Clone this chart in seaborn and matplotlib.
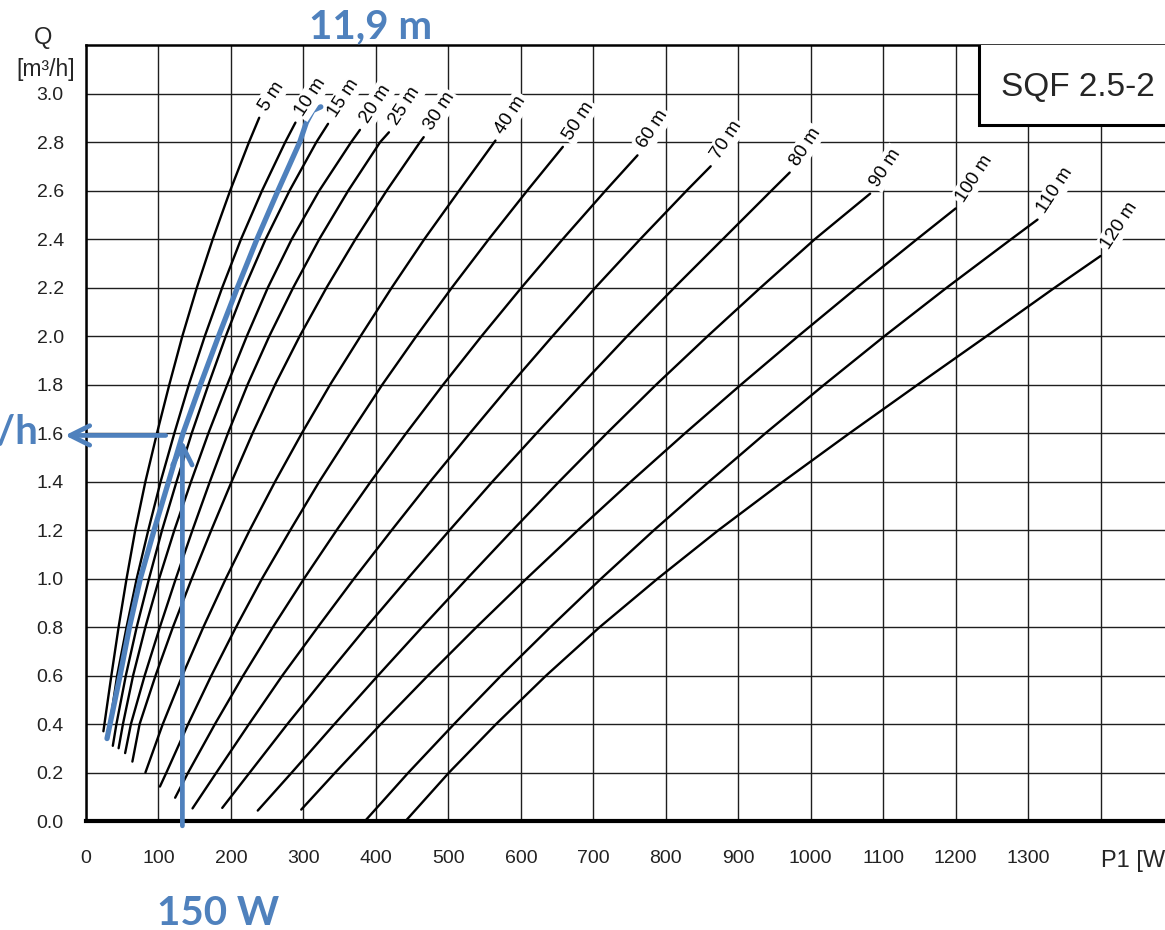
import numpy as np
import pandas as pd
import matplotlib
matplotlib.use("Agg")
import matplotlib.pyplot as plt
from matplotlib.patches import Rectangle
import seaborn as sns

# ---------------- data ----------------
HEAD_LABELS = ["5 m", "10 m", "15 m", "20 m", "25 m", "30 m", "40 m", "50 m",
               "60 m", "70 m", "80 m", "90 m", "100 m", "110 m", "120 m"]

Q_5 = [0.37, 0.6, 0.8, 1.0, 1.2, 1.4, 1.6, 1.8, 2.0, 2.2, 2.4, 2.6, 2.8, 2.9]
W_5 = [24, 35, 45, 56, 68, 82, 98, 115, 133, 153, 175, 199, 225, 239]

Q_10 = [0.34, 0.6, 0.8, 1.0, 1.2, 1.4, 1.6, 1.8, 2.0, 2.2, 2.4, 2.6, 2.8, 2.88]
W_10 = [30, 43, 56, 70, 86, 103, 122, 142, 164, 188, 214, 243, 275, 289]

Q_15 = [0.31, 0.4, 0.6, 0.8, 1.0, 1.2, 1.4, 1.6, 1.8, 2.0, 2.2, 2.4, 2.6, 2.8, 2.875]
W_15 = [37, 42, 55, 70, 87, 105, 125, 146, 169, 193, 219, 248, 281, 318, 334]

Q_20 = [0.30, 0.4, 0.6, 0.8, 1.0, 1.2, 1.4, 1.6, 1.8, 2.0, 2.2, 2.4, 2.6, 2.8, 2.85]
W_20 = [45, 51, 65, 82, 101, 122, 145, 169, 195, 222, 251, 284, 322, 366, 378]

Q_25 = [0.28, 0.4, 0.6, 0.8, 1.0, 1.2, 1.4, 1.6, 1.8, 2.0, 2.2, 2.4, 2.6, 2.8, 2.84]
W_25 = [54, 62, 81, 102, 124, 147, 171, 196, 223, 253, 286, 322, 362, 406, 418]

Q_30 = [0.245, 0.4, 0.6, 0.8, 1.0, 1.2, 1.4, 1.6, 1.8, 2.0, 2.2, 2.4, 2.6, 2.8, 2.82]
W_30 = [64, 74, 96, 120, 146, 173, 201, 230, 261, 295, 332, 372, 415, 461, 466]

Q_40 = [0.2, 0.4, 0.6, 0.8, 1.0, 1.2, 1.4, 1.6, 1.8, 2.0, 2.2, 2.4, 2.6, 2.806]
W_40 = [82, 106, 133, 162, 193, 226, 261, 298, 337, 379, 422, 467, 515, 565]

Q_50 = [0.142, 0.2, 0.4, 0.6, 0.8, 1.0, 1.2, 1.4, 1.6, 1.8, 2.0, 2.2, 2.4, 2.6, 2.78]
W_50 = [102, 111, 141, 173, 207, 243, 282, 322, 365, 409, 456, 505, 556, 609, 658]

Q_60 = [0.096, 0.2, 0.4, 0.6, 0.8, 1.0, 1.2, 1.4, 1.6, 1.8, 2.0, 2.2, 2.4, 2.6, 2.745]
W_60 = [123, 141, 178, 217, 258, 301, 346, 393, 442, 493, 546, 601, 658, 717, 761]

Q_70 = [0.052, 0.2, 0.4, 0.6, 0.8, 1.0, 1.2, 1.4, 1.6, 1.8, 2.0, 2.2, 2.4, 2.6, 2.70]
W_70 = [147, 180, 225, 271, 320, 370, 422, 475, 530, 586, 644, 703, 765, 829, 862]

Q_80 = [0.054, 0.2, 0.4, 0.6, 0.8, 1.0, 1.2, 1.4, 1.6, 1.8, 2.0, 2.2, 2.4, 2.6, 2.674]
W_80 = [188, 226, 278, 332, 387, 444, 502, 561, 622, 684, 747, 812, 879, 946, 971]

Q_90 = [0.043, 0.2, 0.4, 0.6, 0.8, 1.0, 1.2, 1.4, 1.6, 1.8, 2.0, 2.2, 2.4, 2.587]
W_90 = [237, 284, 343, 403, 464, 526, 589, 653, 719, 787, 858, 931, 1006, 1082]

Q_100 = [0.047, 0.2, 0.4, 0.6, 0.8, 1.0, 1.2, 1.4, 1.6, 1.8, 2.0, 2.2, 2.4, 2.526]
W_100 = [297, 344, 407, 472, 539, 608, 679, 752, 827, 904, 983, 1064, 1147, 1200]

Q_110 = [0.0, 0.2, 0.4, 0.6, 0.8, 1.0, 1.2, 1.4, 1.6, 1.8, 2.0, 2.2, 2.4, 2.48]
W_110 = [385, 445, 508, 573, 641, 711, 784, 860, 938, 1019, 1102, 1188, 1277, 1313]

Q_120 = [0.0, 0.2, 0.4, 0.6, 0.8, 1.0, 1.2, 1.4, 1.6, 1.8, 2.0, 2.2, 2.33]
W_120 = [441, 501, 566, 635, 709, 789, 873, 962, 1054, 1148, 1243, 1337, 1400]

# highlighted 11.9 m operating curve
Q_BLUE = [0.34, 0.6, 0.8, 1.0, 1.2, 1.4, 1.6, 1.8, 2.0, 2.2, 2.4, 2.6, 2.8, 2.88, 2.93, 2.945]
W_BLUE = [29, 47, 60, 75, 94, 114, 134, 158, 183, 209, 236, 265, 295, 304, 313, 324]

READ_W = 133          # where the vertical arrow is drawn
READ_Q = 1.59         # where the horizontal arrow is drawn
HEAD_TEXT = "11,9 m"
POWER_TEXT = "150 W"
FLOW_TEXT = "1,6 m³/h"
MODEL_TEXT = "SQF 2.5-2"

X_TICKS = list(range(0, 1401, 100))
X_TICK_LABELS = [str(v) for v in range(0, 1301, 100)] + [""]
Y_TICKS = [0.0, 0.2, 0.4, 0.6, 0.8, 1.0, 1.2, 1.4, 1.6, 1.8, 2.0, 2.2, 2.4, 2.6, 2.8, 3.0]
Y_TICK_LABELS = [f"{v:.1f}" for v in Y_TICKS]

CURVES_Q = [Q_5, Q_10, Q_15, Q_20, Q_25, Q_30, Q_40, Q_50, Q_60, Q_70, Q_80, Q_90, Q_100, Q_110, Q_120]
CURVES_W = [W_5, W_10, W_15, W_20, W_25, W_30, W_40, W_50, W_60, W_70, W_80, W_90, W_100, W_110, W_120]

rows = []
for lab, qs, ws in zip(HEAD_LABELS, CURVES_Q, CURVES_W):
    for q, w in zip(qs, ws):
        rows.append({"curve": lab, "P1": w, "Q": q})
df = pd.DataFrame(rows)
df_blue = pd.DataFrame({"P1": W_BLUE, "Q": Q_BLUE, "curve": "blue"})

# ---------------- figure ----------------
sns.set_style("white")
plt.rcParams["font.family"] = ["Liberation Sans", "DejaVu Sans"]
BLUE = "#4F81BD"
GRID = "#1e1e1e"

W_PX, H_PX = 1165, 930
fig = plt.figure(figsize=(W_PX / 100, H_PX / 100), dpi=100)
ax_left, ax_bottom, ax_top = 86, 821, 45
ax = fig.add_axes([ax_left / W_PX, (H_PX - ax_bottom) / H_PX,
                   1 - ax_left / W_PX, (ax_bottom - ax_top) / H_PX])

px_per_w = 0.7247
ax.set_xlim(0, (W_PX - ax_left) / px_per_w)
ax.set_ylim(0, 3.2)

sns.lineplot(data=df, x="P1", y="Q", units="curve", estimator=None, sort=False,
             color="black", lw=1.7, ax=ax, legend=False, zorder=3,
             solid_joinstyle="round")
sns.lineplot(data=df_blue, x="P1", y="Q", units="curve", estimator=None, sort=False,
             color=BLUE, lw=3.8, ax=ax, legend=False, zorder=4,
             solid_capstyle="round", solid_joinstyle="round")

# curve labels at the upper end of each curve
for lab, qs, ws in zip(HEAD_LABELS, CURVES_Q, CURVES_W):
    ax.annotate(lab, xy=(ws[-1], qs[-1]), xytext=(3, 6), textcoords="offset points",
                rotation=57, rotation_mode="anchor", ha="left", va="center",
                fontsize=13.5, color="black", zorder=5,
                bbox=dict(boxstyle="square,pad=0.12", fc="white", ec="none"))

# grid & ticks
ax.set_xticks(X_TICKS)
ax.set_xticklabels(X_TICK_LABELS)
ax.set_xticks(np.arange(50, 1489, 100), minor=True)
ax.set_yticks(Y_TICKS)
ax.set_yticklabels(Y_TICK_LABELS)
ax.set_yticks(np.arange(0.1, 3.15, 0.2), minor=True)
ax.grid(True, which="major", color=GRID, lw=1.0)
ax.set_axisbelow(True)
ax.tick_params(axis="both", which="major", direction="out", length=11, width=2.2,
               labelsize=14, colors="black", labelcolor="#222222")
ax.tick_params(axis="x", which="major", pad=10)
ax.tick_params(axis="y", which="major", pad=5)
ax.tick_params(axis="both", which="minor", direction="out", length=5, width=1.3, color="black")
ax.set_xlabel("")
ax.set_ylabel("")
for side in ["left", "top"]:
    ax.spines[side].set_linewidth(1.8)
    ax.spines[side].set_color("black")
ax.spines["bottom"].set_linewidth(3.0)
ax.spines["bottom"].set_color("black")
ax.spines["right"].set_visible(False)

# axis titles
ax.annotate("Q", xy=(0, 3.2), xytext=(-31, 5), textcoords="offset points",
            ha="center", va="center", fontsize=17, annotation_clip=False)
ax.annotate("[m³/h]", xy=(0, 3.1), xytext=(-8, 0), textcoords="offset points",
            ha="right", va="center", fontsize=16.5, annotation_clip=False)
ax.annotate("P1 [W]", xy=(1400, 0), xytext=(0, -21), textcoords="offset points",
            ha="left", va="top", fontsize=17, annotation_clip=False)

# model box
ax.add_patch(Rectangle((1232, 2.869), 500, 0.5, fc="white", ec="black", lw=2.2, zorder=6))
ax.text(1368, 3.025, MODEL_TEXT, ha="center", va="center", fontsize=24, zorder=7)

# blue reading arrows
ax.annotate("", xy=(READ_W, 1.57), xytext=(READ_W, -0.02),
            arrowprops=dict(arrowstyle="->,head_length=0.7,head_width=0.35",
                            color=BLUE, lw=3.4, mutation_scale=20, shrinkA=0, shrinkB=0),
            annotation_clip=False, zorder=6)
ax.annotate("", xy=(-29, READ_Q), xytext=(110, READ_Q),
            arrowprops=dict(arrowstyle="->,head_length=0.7,head_width=0.35",
                            color=BLUE, lw=3.4, mutation_scale=20, shrinkA=0, shrinkB=0),
            annotation_clip=False, zorder=6)

blue_font = dict(color=BLUE, fontweight="bold", family=["Lato", "DejaVu Sans"], fontsize=29)
fig.text(371 / W_PX, 1 - 38 / H_PX, HEAD_TEXT, ha="center", va="baseline", **blue_font)
fig.text(218 / W_PX, 1 - 925 / H_PX, POWER_TEXT, ha="center", va="baseline", **blue_font)
fig.text(38 / W_PX, 1 - 443 / H_PX, FLOW_TEXT, ha="right", va="baseline", **blue_font)

fig.savefig("out.png", dpi=100)
